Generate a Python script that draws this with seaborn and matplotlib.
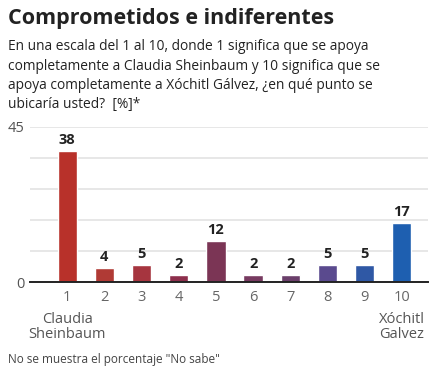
import pandas as pd
import seaborn as sns
import matplotlib.pyplot as plt

escala = ['1', '2', '3', '4', '5', '6', '7', '8', '9', '10']
porcentaje = [38, 4, 5, 2, 12, 2, 2, 5, 5, 17]
colores = ['#b8312a', '#b03a35', '#a6353f', '#8d2f4c', '#7b3555',
           '#773a60', '#6b3f6b', '#5a4a8e', '#2f58a5', '#1e5fb0']

df = pd.DataFrame({'escala': escala, 'pct': porcentaje})

sns.set_style('white')
plt.rcParams['font.family'] = ['Open Sans', 'DejaVu Sans']

fig = plt.figure(figsize=(4.48, 3.67), dpi=100)
ax = fig.add_axes([0.067, 0.2316, 0.888, 0.4224])

sns.barplot(data=df, x='escala', y='pct', hue='escala', palette=colores,
            legend=False, width=0.52, saturation=1, ax=ax)

ax.set_xlim(-1.0, 9.7)
ax.set_ylim(0, 45)
ax.set_yticks([0, 9, 18, 27, 36, 45])
ax.set_yticklabels(['0', '', '', '', '', '45'], color='#555555', fontsize=10.5)
ax.yaxis.grid(True, color='#e3e3e3', linewidth=1.2)
ax.set_axisbelow(True)
ax.tick_params(axis='both', length=0, pad=4)
ax.tick_params(axis='x', labelsize=10.5, labelcolor='#666666', pad=6)
for s in ['top', 'right', 'left']:
    ax.spines[s].set_visible(False)
ax.spines['bottom'].set_color('#222222')
ax.spines['bottom'].set_linewidth(1.4)
ax.set_xlabel('')
ax.set_ylabel('')

for i, v in enumerate(porcentaje):
    ax.text(i, v + 1.2, str(v), ha='center', va='bottom', fontsize=10.5,
            fontweight='bold', color='#222222')

ax.text(0, -8.6, 'Claudia\nSheinbaum', ha='center', va='top', fontsize=10.5,
        color='#555555', linespacing=1.05)
ax.text(9, -8.6, 'Xóchitl\nGalvez', ha='center', va='top', fontsize=10.5,
        color='#555555', linespacing=1.05)

fig.text(0.018, 0.978, 'Comprometidos e indiferentes', ha='left', va='top',
         fontsize=15.5, fontweight='bold', color='#222222')
fig.text(0.018, 0.893,
         'En una escala del 1 al 10, donde 1 significa que se apoya\n'
         'completamente a Claudia Sheinbaum y 10 significa que se\n'
         'apoya completamente a Xóchitl Gálvez, ¿en qué punto se\n'
         'ubicaría usted?  [%]*',
         ha='left', va='top', fontsize=9.95, color='#222222', linespacing=1.4)
fig.text(0.018, 0.004, 'No se muestra el porcentaje "No sabe"', ha='left',
         va='bottom', fontsize=8.5, color='#444444')

fig.savefig('out.png', dpi=100)
